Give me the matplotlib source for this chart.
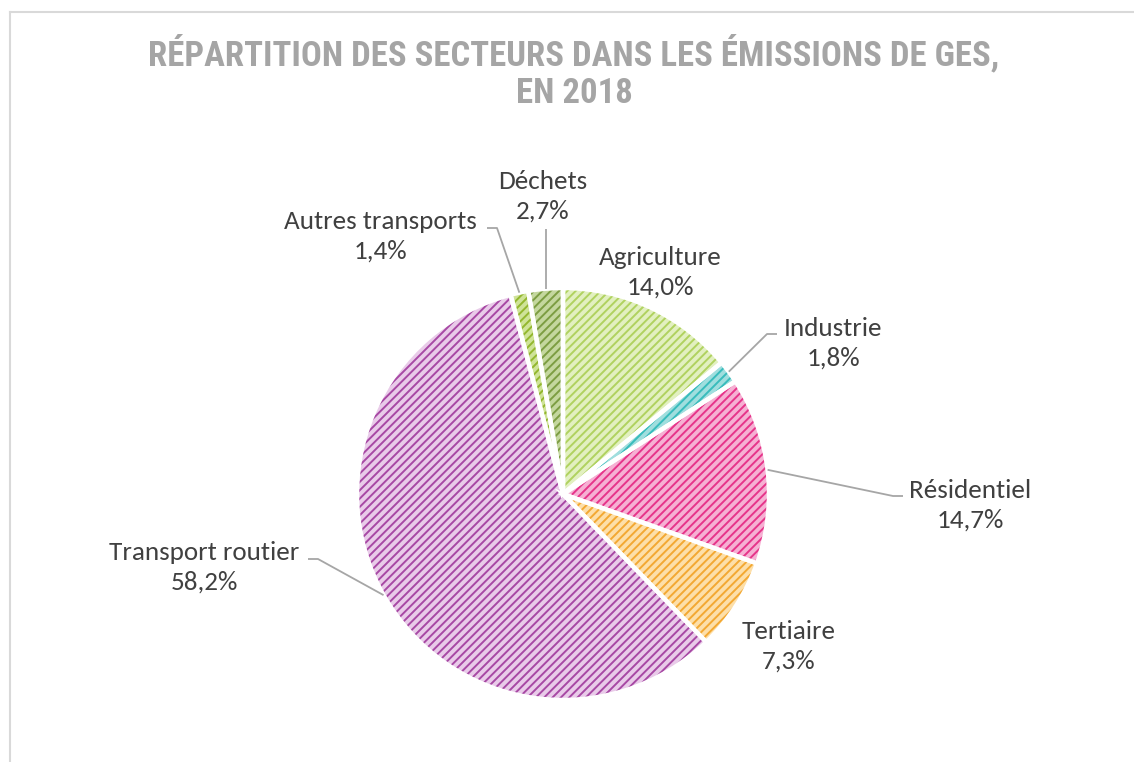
import numpy as np
import matplotlib
matplotlib.use("Agg")
import matplotlib.pyplot as plt
from matplotlib.lines import Line2D
from matplotlib import font_manager

# Data
sectors = ["Agriculture", "Industrie", "Résidentiel", "Tertiaire",
           "Transport routier", "Autres transports", "Déchets"]
shares = [14.0, 1.8, 14.7, 7.3, 58.2, 1.4, 2.7]
value_labels = ["14,0%", "1,8%", "14,7%", "7,3%", "58,2%", "1,4%", "2,7%"]
title = "RÉPARTITION DES SECTEURS DANS LES ÉMISSIONS DE GES,\nEN 2018"

# Styling: light fill + darker diagonal stripes per sector
face_colors = ["#e2f0c0", "#a0dede", "#f6b0d3", "#fddfa9", "#e9cbe9", "#cfe398", "#c4d79e"]
stripe_colors = ["#b0d25f", "#38bcbc", "#e6348a", "#f3a832", "#a748a4", "#93b72e", "#7c9d42"]

installed = {f.name for f in font_manager.fontManager.ttflist}


def pick(*names):
    for n in names:
        if n in installed:
            return n
    return "DejaVu Sans"


label_family = pick("Carlito", "Lato")
title_family = pick("Roboto Condensed", "Asap Condensed", "Archivo Narrow", "Liberation Sans Narrow")

W, H = 1134, 762
fig = plt.figure(figsize=(W / 100, H / 100), dpi=100)
ax = fig.add_axes([0, 0, 1, 1])

cx, cy, R = 563, H - 494, 206

plt.rcParams["hatch.linewidth"] = 1.4
wedges, _ = ax.pie(shares, colors=face_colors, startangle=90, counterclock=False,
                   center=(cx, cy), radius=R, frame=True,
                   wedgeprops=dict(linewidth=0))
for w, sc in zip(wedges, stripe_colors):
    w.set_hatch("////")
    w.set_edgecolor(sc)
    w.set_linewidth(0)

# White separators between slices
ax.pie(shares, colors=["none"] * len(shares), startangle=90, counterclock=False,
       center=(cx, cy), radius=R, frame=True,
       wedgeprops=dict(linewidth=3.2, edgecolor="white", fill=False))

ax.set_xlim(0, W)
ax.set_ylim(0, H)
ax.set_aspect("equal")
ax.axis("off")

# Slice mid-angles for leader lines
fr = np.cumsum([0] + shares) / sum(shares)
mids = 90 - 360 * (fr[:-1] + fr[1:]) / 2


def anchor(i, r=R):
    a = np.deg2rad(mids[i])
    return cx + r * np.cos(a), cy + r * np.sin(a)


# Label placement (pixel positions, y from top)
label_pos = {
    "Agriculture": (660, 272),
    "Industrie": (833, 343),
    "Résidentiel": (970, 505),
    "Tertiaire": (789, 646),
    "Transport routier": (204, 567),
    "Autres transports": (380, 236),
    "Déchets": (543, 196),
}
text_color = "#404040"
lead_color = "#a6a6a6"
label_size = 19.5 if label_family == "Carlito" else 19

for i, (name, val) in enumerate(zip(sectors, value_labels)):
    x, y = label_pos[name]
    ax.text(x, H - y, f"{name}\n{val}", ha="center", va="center",
            fontsize=label_size, color=text_color, family=label_family,
            linespacing=1.33)

# Leader lines: anchor on the rim -> elbow -> next to label
leaders = {
    "Industrie": [(767, 334), (777, 334)],
    "Résidentiel": [(893, 496), (903, 496)],
    "Transport routier": [(318, 559), (308, 559)],
    "Autres transports": [(497, 228), (487, 228)],
    "Déchets": [(None, 229)],
}
for name, pts in leaders.items():
    i = sectors.index(name)
    ax_, ay_ = anchor(i)
    xs, ys = [ax_], [ay_]
    for px, py in pts:
        xs.append(ax_ if px is None else px)
        ys.append(H - py)
    ax.plot(xs, ys, color=lead_color, lw=1.3, solid_capstyle="butt", zorder=1)

# Title, sized so its first line spans ~852 px
t = fig.text(574 / W, 1 - 72 / H, title, ha="center", va="center",
             fontsize=24, fontweight="bold", color="#a5a5a5",
             family=title_family, linespacing=1.15)
renderer = fig.canvas.get_renderer()
probe = fig.text(0, 0, title.split("\n")[0], fontsize=24, fontweight="bold",
                 family=title_family)
wpx = probe.get_window_extent(renderer).width
probe.remove()
t.set_fontsize(24 * 852 / wpx)

# Chart area border
border = "#d9d9d9"
fig.add_artist(Line2D([9.5 / W, 1], [1 - 12 / H, 1 - 12 / H], color=border, lw=1.5,
                      transform=fig.transFigure))
fig.add_artist(Line2D([9.5 / W, 9.5 / W], [0, 1 - 12 / H], color=border, lw=1.5,
                      transform=fig.transFigure))

fig.savefig("out.png", dpi=100, facecolor="white")
